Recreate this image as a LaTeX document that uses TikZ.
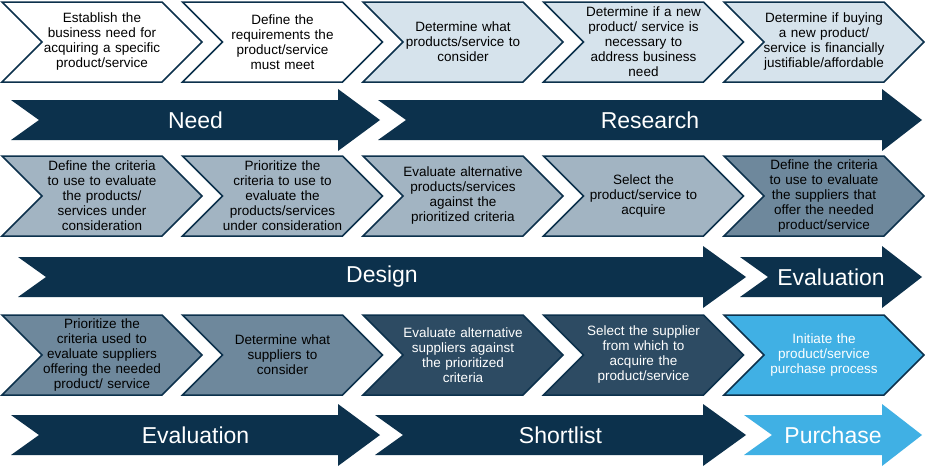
\documentclass[tikz,border=0pt]{standalone}
\usepackage{fontspec}
\setmainfont{Liberation Sans}
\usetikzlibrary{shapes.symbols}
\definecolor{navy}{RGB}{12,49,76}
\definecolor{light}{RGB}{214,227,236}
\definecolor{mid}{RGB}{162,180,194}
\definecolor{steel}{RGB}{110,136,156}
\definecolor{deep}{RGB}{45,75,99}
\definecolor{sky}{RGB}{64,176,228}

% phase band: name, left x, head start, tip, centre y, colour, text
\newcommand{\phase}[7]{%
  \fill[#6] ({#2},{#5-20}) -- ({#3},{#5-20}) -- ({#3},{#5-31}) -- ({#4},{#5})
    -- ({#3},{#5+31}) -- ({#3},{#5+20}) -- ({#2},{#5+20}) -- ({#2+28},{#5}) -- cycle;
  \node[phasetext] (#1) at ({(#2+#4)/2},{#5}) {#7};
}

\begin{document}
\begin{tikzpicture}[x=1pt, y=-1pt,
    chev/.style={signal, signal from=west, signal to=east, signal pointer angle=90,
      minimum width=200pt, minimum height=80pt, inner sep=0pt,
      draw=navy, line width=1.5pt},
    chevtext/.style={text width=140pt, align=center, inner sep=0pt,
      font=\fontsize{13.5}{15}\selectfont},
    phasetext/.style={text=white, font=\fontsize{23}{26}\selectfont}]
  \useasboundingbox[fill=white] (0,0) rectangle (925,466);

  % first row
  \foreach \i/\fc/\tc/\txt in {
      1/white/black/{Establish the\\business need for\\acquiring a specific\\product/service},
      2/white/black/{Define the\\requirements the\\product/service\\must meet},
      3/light/black/{Determine what\\products/service to\\consider},
      4/light/black/{Determine if a new\\product/ service is\\necessary to\\address business\\need},
      5/light/black/{Determine if buying\\a new product/\\service is financially\\justifiable/affordable}}{
    \node[chev, fill=\fc] (a\i) at ({102+180.5*(\i-1)},42) {};
    \node[chevtext, text=\tc] (ta\i) at (a\i) {\txt};
  }
  \phase{need}{11}{338}{380}{120}{navy}{Need}
  \phase{research}{378}{882}{922}{120}{navy}{Research}

  % second row
  \foreach \i/\fc/\tc/\txt in {
      1/mid/black/{Define the criteria\\to use to evaluate\\the products/\\services under\\consideration},
      2/mid/black/{Prioritize the\\criteria to use to\\evaluate the\\products/services\\under consideration},
      3/mid/black/{Evaluate alternative\\products/services\\against the\\prioritized criteria},
      4/mid/black/{Select the\\product/service to\\acquire},
      5/steel/black/{Define the criteria\\to use to evaluate\\the suppliers that\\offer the needed\\product/service}}{
    \node[chev, fill=\fc] (b\i) at ({102+180.5*(\i-1)},196) {};
    \node[chevtext, text=\tc] (tb\i) at (b\i) {\txt};
  }
  \phase{design}{18}{703}{746}{277}{navy}{Design}
  \phase{evalA}{740}{882}{922}{277}{navy}{Evaluation}

  % third row
  \foreach \i/\fc/\tc/\txt in {
      1/steel/black/{Prioritize the\\criteria used to\\evaluate suppliers\\offering the needed\\product/ service},
      2/steel/black/{Determine what\\suppliers to\\consider},
      3/deep/white/{Evaluate alternative\\suppliers against\\the prioritized\\criteria},
      4/deep/white/{Select the supplier\\from which to\\acquire the\\product/service},
      5/sky/white/{Initiate the\\product/service\\purchase process}}{
    \node[chev, fill=\fc] (c\i) at ({102+180.5*(\i-1)},355) {};
    \node[chevtext, text=\tc] (tc\i) at (c\i) {\txt};
  }
  \phase{evalB}{11}{338}{380}{435}{navy}{Evaluation}
  \phase{shortlist}{375}{703}{746}{435}{navy}{Shortlist}
  \phase{purchase}{744}{882}{922}{435}{sky}{Purchase}
\end{tikzpicture}
\end{document}
